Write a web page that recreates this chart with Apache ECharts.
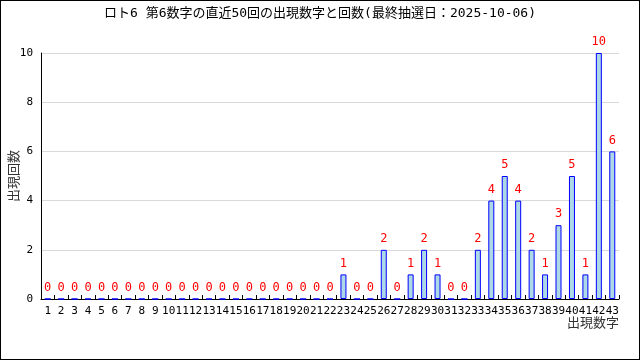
<!DOCTYPE html>
<html><head><meta charset="utf-8">
<script src="https://cdn.jsdelivr.net/npm/echarts@6/dist/echarts.min.js"></script>
<style>html,body{margin:0;padding:0;background:#fff}#c{width:640px;height:360px;box-sizing:border-box;border:1px solid #000}</style>
</head><body><div id="c"></div>
<script>
const titleText = 'ロト6 第6数字の直近50回の出現数字と回数(最終抽選日：2025-10-06)';
const categories = ['1','2','3','4','5','6','7','8','9','10','11','12','13','14','15','16','17','18','19','20','21','22','23','24','25','26','27','28','29','30','31','32','33','34','35','36','37','38','39','40','41','42','43'];
const counts = [0,0,0,0,0,0,0,0,0,0,0,0,0,0,0,0,0,0,0,0,0,0,1,0,0,2,0,1,2,1,0,0,2,4,5,4,2,1,3,5,1,10,6];
const yTicks = [0,2,4,6,8,10];
const xName = '出現数字';
const yName = '出現回数';
const FONT = '"DejaVu Sans Mono", "Noto Sans CJK JP", monospace';
const chart = echarts.init(document.getElementById('c'), null, {renderer:'canvas'});
chart.setOption({
  animation:false,
  title:{text:titleText,left:'center',top:1,textStyle:{fontSize:13,fontWeight:'normal',color:'#000',fontFamily:FONT}},
  grid:{left:40,right:20,top:52,bottom:60,containLabel:false,outerBoundsMode:'none'},
  xAxis:{type:'category',data:categories,
    name:xName,nameLocation:'end',nameGap:0,nameMoveOverlap:false,
    nameTextStyle:{fontSize:13,color:'#333',fontFamily:FONT,align:'right',verticalAlign:'top',padding:[18,0,0,0]},
    axisLine:{lineStyle:{color:'#000',width:1}},
    axisTick:{show:true,inside:true,length:4,lineStyle:{color:'#000'},alignWithLabel:false},
    axisLabel:{interval:0,fontSize:11,color:'#000',fontFamily:FONT,margin:7}},
  yAxis:{type:'value',min:yTicks[0],max:yTicks[yTicks.length-1],interval:2,
    name:yName,nameLocation:'middle',nameGap:20,nameRotate:90,nameMoveOverlap:false,
    nameTextStyle:{fontSize:13,color:'#333',fontFamily:FONT},
    axisLine:{show:true,lineStyle:{color:'#000',width:1}},
    axisTick:{show:false},
    splitLine:{lineStyle:{color:'#d9d9d9',width:1}},
    axisLabel:{fontSize:11,color:'#000',fontFamily:FONT,margin:8}},
  series:[{type:'bar',data:counts,barWidth:6,
    itemStyle:{color:'#add8e6',borderColor:'#0000ff',borderWidth:1},
    label:{show:true,position:'top',distance:5,color:'#ff0000',fontSize:12,fontFamily:FONT}}]
});
</script></body></html>
